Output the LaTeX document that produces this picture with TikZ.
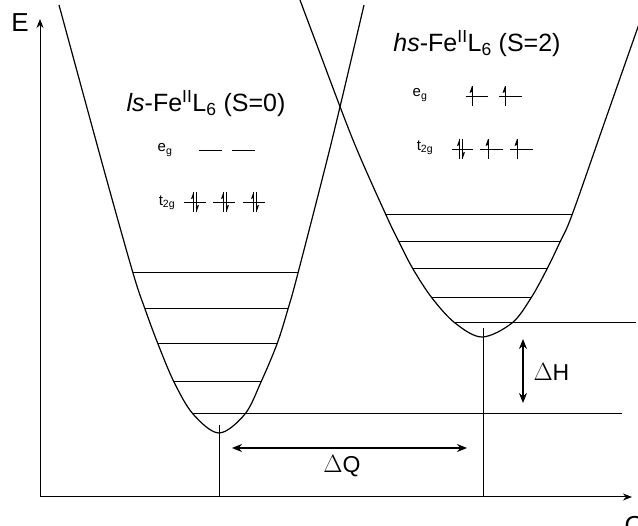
\documentclass[tikz,border=0pt]{standalone}
\usepackage{fontspec}
\setmainfont{Liberation Sans}
\usetikzlibrary{arrows.meta}
\begin{document}
\begin{tikzpicture}[x=1pt,y=-1pt,line width=1pt,
  curve/.style={line width=1.2pt},
  lvl/.style={line width=1pt},
  orb/.style={line width=0.9pt},
  dbl/.style={{Stealth[length=10pt,width=8pt]}-{Stealth[length=10pt,width=8pt]}},
  axis/.style={-{Stealth[length=9pt,width=7pt]}},
  title/.style={font=\fontsize{25}{30}\selectfont,inner sep=0pt},
  big/.style={font=\fontsize{23}{28}\selectfont,inner sep=0pt},
  small/.style={font=\fontsize{15}{17}\selectfont,inner sep=0pt},
  upspin/.pic={\draw[line width=0.8pt] (0,-10)--(0,10); \fill (0,-10)--(-2.5,-3)--(0,-4)--cycle;},
  downspin/.pic={\draw[line width=0.8pt] (0,-10)--(0,10); \fill (0,10)--(2.5,3)--(0,4)--cycle;}]
\useasboundingbox (0,0) rectangle (638,526);

% axes
\coordinate (O) at (40,497);
\coordinate (Etip) at (40,19);
\coordinate (Qtip) at (632,497);
\draw[axis] (O) -- (Etip);
\draw[axis] (O) -- (Qtip);
\node[font=\fontsize{26}{30}\selectfont,inner sep=0pt] (E) at (20,23) {E};
\node[font=\fontsize{26}{30}\selectfont,inner sep=0pt,anchor=north west] (Q) at (624,516) {Q};

% potential wells
\draw[curve] plot[smooth,tension=0.55] coordinates {(59,5) (104,170) (133,273) (145,309) (158,344) (174,382) (193,414) (219,433) (245,414) (261,382) (277,344) (288,309) (298,273) (332,140) (364,5)};
\draw[curve] plot[smooth,tension=0.55] coordinates {(300,0) (315,40) (353,140) (386,215) (399,242) (413,269) (432,298) (455,323) (482,337) (512,323) (531,298) (547,269) (560,242) (572,215) (605,121) (638,27) (648,0)};

% vibrational levels, low-spin
\draw[lvl] (133,273) -- (298,273);
\draw[lvl] (145,309) -- (288,309);
\draw[lvl] (158,344) -- (277,344);
\draw[lvl] (174,382) -- (261,382);
\draw[lvl] (193,414) -- (622,414);
% vibrational levels, high-spin
\draw[lvl] (386,215) -- (572,215);
\draw[lvl] (399,242) -- (560,242);
\draw[lvl] (413,269) -- (547,269);
\draw[lvl] (432,298) -- (531,298);
\draw[lvl] (455,323) -- (636,323);

% verticals
\coordinate (lsmin) at (219,425);
\coordinate (lsbot) at (219,497);
\coordinate (hsmin) at (483,328);
\coordinate (hsbot) at (483,497);
\draw[lvl] (lsmin) -- (lsbot) -- (hsbot) -- (hsmin);

% Delta Q
\coordinate (q1) at (232,448);
\coordinate (q2) at (467,448);
\draw[dbl,line width=1.2pt] (q1) -- (q2);
\node[big] (dQ) at (342,466) {$\Delta$Q};
% Delta H
\coordinate (h1) at (523,339);
\coordinate (h2) at (523,403);
\draw[dbl,line width=1.2pt] (h1) -- (h2);
\node[big,anchor=west] (dH) at (533,372) {$\Delta$H};

% titles
\node[title] (ls) at (206,104) {\textit{ls}-Fe\textsuperscript{II}L\textsubscript{6} (S=0)};
\node[title] (hs) at (477,44) {\textit{hs}-Fe\textsuperscript{II}L\textsubscript{6} (S=2)};

% ls orbitals
\node[small] (lseg) at (165,150) {e\textsubscript{g}};
\draw[orb] (199,150) -- (222,150);
\draw[orb] (232,150) -- (255,150);
\node[small] (lst) at (167,203) {t\textsubscript{2g}};
\draw[orb] (184,202) -- (206,202);
\draw[orb] (213,202) -- (235,202);
\draw[orb] (243,202) -- (265,202);
\foreach \c in {195,225,255}{
  \pic at (\c-1.5,202) {upspin};
  \pic at (\c+1.5,202) {downspin};
}

% hs orbitals
\node[small] (hseg) at (420,95) {e\textsubscript{g}};
\draw[orb] (466,96) -- (488,96);
\draw[orb] (499,96) -- (522,96);
\pic at (472,96) {upspin};
\pic at (505,96) {upspin};
\node[small] (hst) at (425,148) {t\textsubscript{2g}};
\draw[orb] (452,149) -- (473,149);
\draw[orb] (480,149) -- (503,149);
\draw[orb] (510,149) -- (533,149);
\pic at (459.5,149) {upspin};
\pic at (462.5,149) {downspin};
\pic at (488,149) {upspin};
\pic at (517,149) {upspin};
\end{tikzpicture}
\end{document}
